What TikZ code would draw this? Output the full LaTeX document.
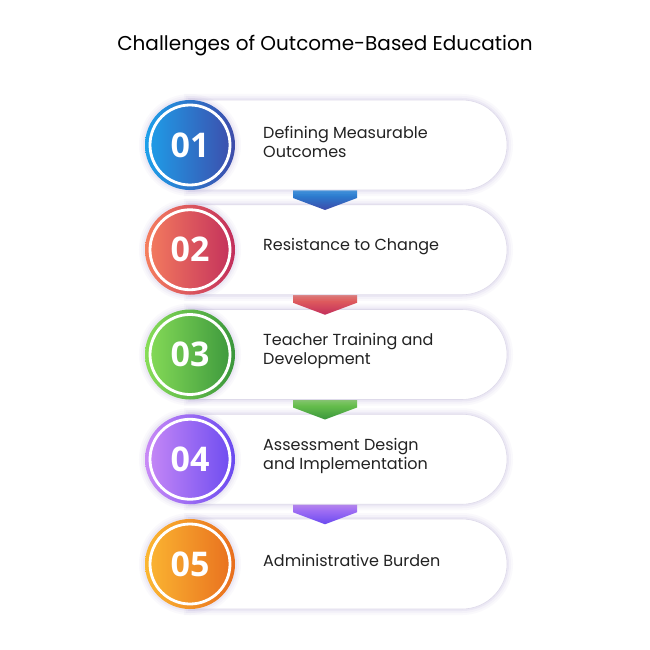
\documentclass[tikz,border=0pt]{standalone}
\usepackage{fontspec}
\setmainfont{Poppins}
\newfontfamily\numfont{Open Sans}
\usetikzlibrary{shapes.misc,calc}

\definecolor{c1l}{HTML}{1DA0EA}
\definecolor{c1r}{HTML}{3E4BAA}
\definecolor{c2l}{HTML}{F57E5E}
\definecolor{c2r}{HTML}{C22E5C}
\definecolor{c3l}{HTML}{88DD58}
\definecolor{c3r}{HTML}{3A963C}
\definecolor{c4l}{HTML}{C98AF6}
\definecolor{c4r}{HTML}{6A4AF0}
\definecolor{c5l}{HTML}{FBB732}
\definecolor{c5r}{HTML}{E86E1E}
\definecolor{halo}{HTML}{B0A4D6}
\definecolor{txt}{HTML}{222222}

\tikzset{
  glow/.style={preaction={draw=halo,line width=12pt,opacity=0.06},
               preaction={draw=halo,line width=8pt,opacity=0.08},
               preaction={draw=halo,line width=4pt,opacity=0.12}},
  pillbox/.style={rounded rectangle, rounded rectangle left arc=none,
                  minimum width=317pt, minimum height=90pt, inner sep=0pt,
                  fill=white, draw={rgb,255:red,222;green,218;blue,234}, line width=0.6pt, glow},
  numdisc/.style={circle, minimum size=90pt, inner sep=0pt, text=white,
                  font=\numfont\bfseries\fontsize{34}{34}\selectfont, glow},
  itemtext/.style={anchor=west, align=left, text=txt, inner sep=0pt,
                   font=\fontsize{16}{19}\selectfont},
}

\begin{document}
\begin{tikzpicture}[x=1pt,y=-1pt]
\useasboundingbox (0,0) rectangle (650,650);
\fill[white] (0,0) rectangle (650,650);

% title
\node[text=black, font=\fontsize{20}{22}\selectfont] (title) at (325,46) {Challenges of Outcome-Based Education};

% items, drawn from the bottom up so each tab sits under its own pill
\foreach \i/\txt in {5/{Administrative Burden},
                     4/{Assessment Design\\and Implementation},
                     3/{Teacher Training and\\Development},
                     2/{Resistance to Change},
                     1/{Defining Measurable\\Outcomes}} {
  \pgfmathsetmacro\y{145+104.75*(\i-1)}
  % tab pointing down to the next pill
  \ifnum\i<5
    \shade[top color=c\i l, bottom color=c\i r]
      (293,\y+40) -- (357,\y+40) -- (357,\y+53) -- (325,\y+65) -- (293,\y+53) -- cycle;
  \fi
  \node[pillbox] (pill\i) at (348.5,\y) {};
  \node[numdisc, left color=c\i l, right color=c\i r] (num\i) at (190,\y) {0\i};
  \draw[white, line width=2.8pt] (num\i.center) circle[radius=40pt];
  \node[itemtext] (text\i) at (263,\y-3.5) {\txt};
}
\end{tikzpicture}
\end{document}
